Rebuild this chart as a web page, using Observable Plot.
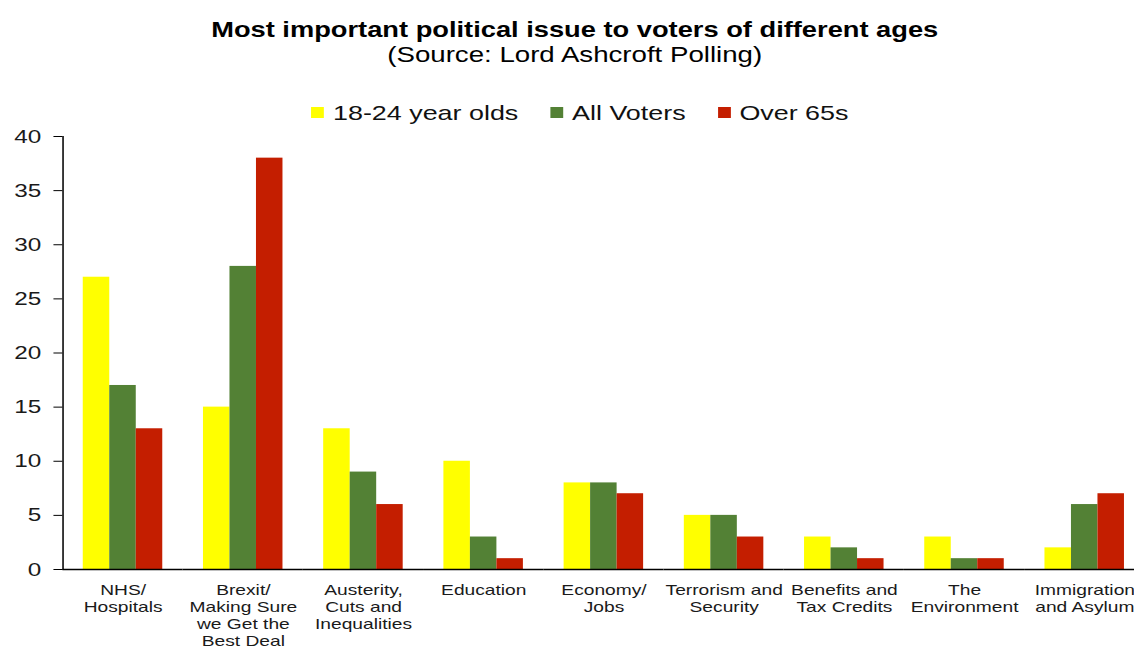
<!DOCTYPE html>
<html><head><meta charset="utf-8">
<script src="https://cdn.jsdelivr.net/npm/d3@7"></script>
<script src="https://cdn.jsdelivr.net/npm/@observablehq/plot@0.6"></script>
<style>
html,body{margin:0;padding:0;background:#fff;overflow:hidden;width:1134px;height:651px;}
#stage{position:absolute;left:0;top:0;width:920px;height:651px;transform:scaleX(1.28);transform-origin:0 0;font-family:"Liberation Sans",Arial,sans-serif;color:#000;}
#title{position:absolute;top:17px;left:0;width:898px;text-align:center;font-weight:bold;font-size:21.3px;line-height:26px;}
#subtitle{position:absolute;top:43px;left:0;width:898px;text-align:center;font-size:21.6px;line-height:24px;}
#legend{position:absolute;top:96px;left:0;width:906px;display:flex;justify-content:center;}
#legend .lg-swatches-wrap{justify-content:center;margin:0;}
#legend .lg-swatch{margin-right:25px;}
#legend .lg-swatch:last-child{margin-right:0;}
#legend .lg-swatch > svg{margin-right:7px;}
#chart{position:absolute;top:120px;left:0;}
</style></head>
<body>
<div id="stage">
  <div id="title"></div>
  <div id="subtitle"></div>
  <div id="legend"></div>
  <div id="chart"></div>
</div>
<script>
const titleText = "Most important political issue to voters of different ages";
const subtitleText = "(Source: Lord Ashcroft Polling)";
const categories = [
  "NHS/\nHospitals",
  "Brexit/\nMaking Sure\nwe Get the\nBest Deal",
  "Austerity,\nCuts and\nInequalities",
  "Education",
  "Economy/\nJobs",
  "Terrorism and\nSecurity",
  "Benefits and\nTax Credits",
  "The\nEnvironment",
  "Immigration\nand Asylum"
];
const series = ["18-24 year olds", "All Voters", "Over 65s"];
const colors = ["#FFFF00", "#538135", "#C41E00"];
const young = [27, 15, 13, 10, 8, 5, 3, 3, 2];
const allVoters = [17, 28, 9, 3, 8, 5, 2, 1, 6];
const over65 = [13, 38, 6, 1, 7, 3, 1, 1, 7];
const yTicks = [0, 5, 10, 15, 20, 25, 30, 35, 40];

const seriesValues = [young, allVoters, over65];
const data = categories.flatMap((c, i) =>
  series.map((s, j) => ({cat: c, series: s, value: seriesValues[j][i]}))
);

document.getElementById("title").textContent = titleText;
document.getElementById("subtitle").textContent = subtitleText;

const legend = Plot.legend({
  color: {domain: series, range: colors, type: "ordinal"},
  className: "lg",
  swatchWidth: 10,
  swatchHeight: 11,
  style: {fontSize: "21px", fontFamily: "'Liberation Sans', Arial, sans-serif", color: "#111"}
});
document.getElementById("legend").appendChild(legend);

const chart = Plot.plot({
  width: 894,
  height: 531,
  marginTop: 16,
  marginBottom: 82,
  marginLeft: 48.75,
  marginRight: 0,
  style: {fontFamily: "'Liberation Sans', Arial, sans-serif", fontSize: "15px", color: "#1a1a1a", background: "transparent", overflow: "visible"},
  fx: {domain: categories, padding: 0, round: false},
  x: {domain: series, paddingInner: 0, paddingOuter: 0.768, round: false, axis: null},
  y: {domain: [0, 40]},
  color: {domain: series, range: colors},
  marks: [
    Plot.barY(data, {fx: "cat", x: "series", y: "value", fill: "series"}),
    Plot.ruleY([0], {stroke: "#000", strokeWidth: 1.5}),
    Plot.frame({anchor: "left", facetAnchor: "left", stroke: "#000", strokeWidth: 1.2}),
    Plot.axisY({ticks: yTicks, tickSize: 7, tickPadding: 10, fontSize: 19, label: null, stroke: "#000"}),
    Plot.axisFx({anchor: "bottom", tickSize: 0, tickPadding: 13, fontSize: 15, lineHeight: 1.15, label: null})
  ]
});
document.getElementById("chart").appendChild(chart);
</script>
</body></html>
